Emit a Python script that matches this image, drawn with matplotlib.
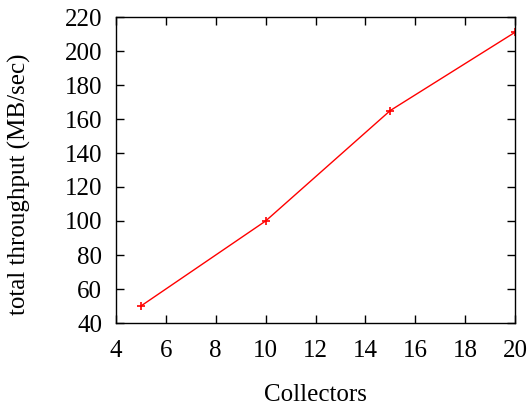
import matplotlib
matplotlib.use("Agg")
import matplotlib.pyplot as plt

collectors = [5, 10, 15, 20]
throughput = [50, 100, 165, 211]

plt.rcParams['font.family'] = ['Liberation Serif', 'DejaVu Serif']
plt.rcParams['font.size'] = 18

fig = plt.figure(figsize=(5.32, 4.13), dpi=100)
ax = fig.add_axes([116 / 532, 1 - 323 / 413, (515 - 116) / 532, (323 - 17) / 413])

ax.plot(collectors, throughput, color='red', lw=1, marker='+', ms=6, mew=1.2)

ax.set_xlim(4, 20)
ax.set_ylim(40, 220)
ax.set_xticks(range(4, 21, 2))
ax.set_yticks(range(40, 221, 20))
ax.tick_params(direction='in', top=True, right=True, length=6, width=1)
ax.tick_params(axis='x', pad=12)
ax.tick_params(axis='y', pad=10)
for s in ax.spines.values():
    s.set_linewidth(1)

ax.set_xlabel('Collectors')
ax.set_ylabel('total throughput (MB/sec)')
ax.xaxis.set_label_coords(0.5, (323 - 384) / 306)
ax.yaxis.set_label_coords((31 - 116) / 399, (323 - 184) / 306)

fig.savefig('out.png', dpi=100)
